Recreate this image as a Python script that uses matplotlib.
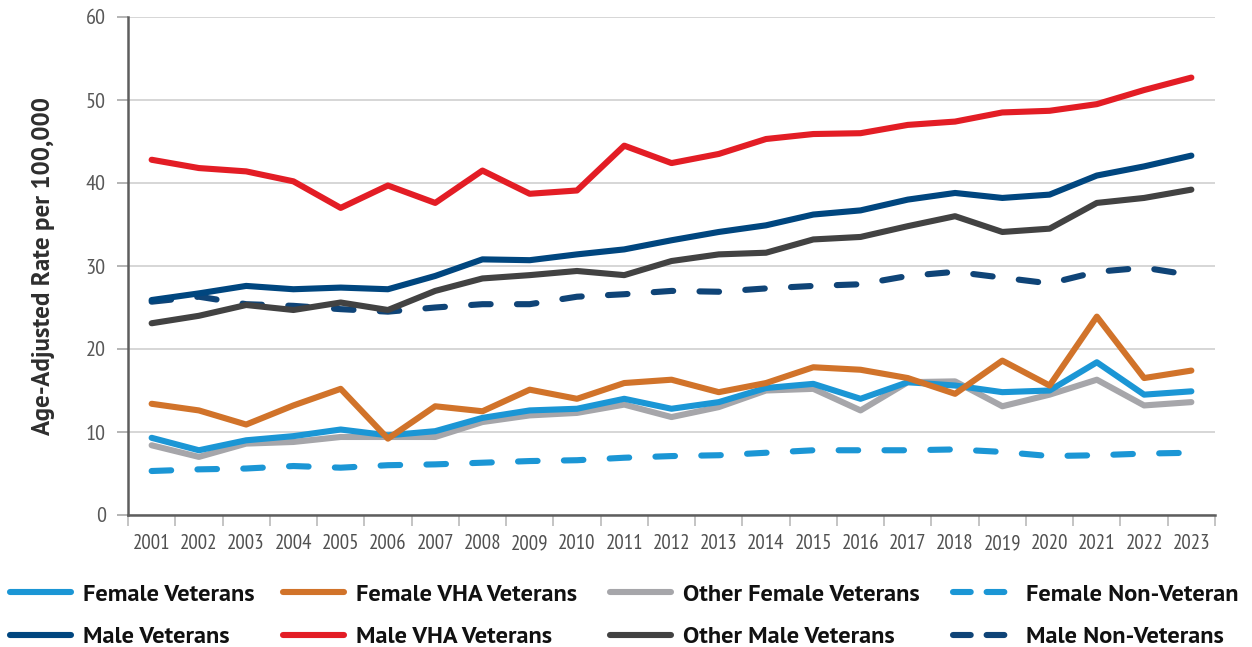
"""
Age-adjusted suicide rate trends, veterans vs non-veterans, 2001-2023.
"""
import matplotlib
matplotlib.use("Agg")
import matplotlib.pyplot as plt
from matplotlib.lines import Line2D
import numpy as np

plt.rcParams.update({
    "font.family": ["PT Sans Narrow", "DejaVu Sans"],
})
BOLD_FAMILY = ["PT Sans", "DejaVu Sans"]

years = list(range(2001, 2024))

female_vets = [9.3, 7.8, 9.0, 9.5, 10.3, 9.6, 10.1, 11.7, 12.6, 12.8, 14.0, 12.8,
               13.6, 15.3, 15.8, 14.0, 16.0, 15.6, 14.8, 15.0, 18.4, 14.5, 14.9]
female_vha = [13.4, 12.6, 10.9, 13.2, 15.2, 9.2, 13.1, 12.5, 15.1, 14.0, 15.9, 16.3,
              14.8, 15.9, 17.8, 17.5, 16.5, 14.6, 18.6, 15.6, 23.9, 16.5, 17.4]
other_female = [8.4, 7.0, 8.6, 8.8, 9.4, 9.4, 9.4, 11.2, 12.0, 12.3, 13.3, 11.8,
                13.0, 15.0, 15.2, 12.6, 16.0, 16.1, 13.1, 14.5, 16.3, 13.2, 13.6]
female_nonvet = [5.3, 5.5, 5.6, 5.9, 5.7, 6.0, 6.1, 6.3, 6.5, 6.6, 6.9, 7.1,
                 7.2, 7.5, 7.8, 7.8, 7.8, 7.9, 7.6, 7.1, 7.2, 7.4, 7.5]
male_vets = [25.9, 26.7, 27.6, 27.2, 27.4, 27.2, 28.8, 30.8, 30.7, 31.4, 32.0, 33.1,
             34.1, 34.9, 36.2, 36.7, 38.0, 38.8, 38.2, 38.6, 40.9, 42.0, 43.3]
male_vha = [42.8, 41.8, 41.4, 40.2, 37.0, 39.7, 37.6, 41.5, 38.7, 39.1, 44.5, 42.4,
            43.5, 45.3, 45.9, 46.0, 47.0, 47.4, 48.5, 48.7, 49.5, 51.2, 52.7]
other_male = [23.1, 24.0, 25.3, 24.7, 25.6, 24.7, 27.0, 28.5, 28.9, 29.4, 28.9, 30.6,
              31.4, 31.6, 33.2, 33.5, 34.8, 36.0, 34.1, 34.5, 37.6, 38.2, 39.2]
male_nonvet = [25.7, 26.3, 25.4, 25.2, 24.8, 24.5, 25.0, 25.4, 25.4, 26.3, 26.6, 27.0,
               26.9, 27.3, 27.6, 27.8, 28.8, 29.3, 28.6, 27.9, 29.3, 29.8, 28.9]

# legend columns: (top entry, bottom entry); entry = (label, values, colour, dashed)
legend_cols = [
    (("Female Veterans", female_vets, "#1b96d5", False),
     ("Male Veterans", male_vets, "#00467f", False)),
    (("Female VHA Veterans", female_vha, "#d1732a", False),
     ("Male VHA Veterans", male_vha, "#e31d25", False)),
    (("Other Female Veterans", other_female, "#a6a6aa", False),
     ("Other Male Veterans", other_male, "#424242", False)),
    (("Female Non-Veteran", female_nonvet, "#1b96d5", True),
     ("Male Non-Veterans", male_nonvet, "#0f4477", True)),
]
legend_x = [10, 283, 610, 953]  # pixel x of each legend column

# draw order so that the bold lines stack like the original
draw_order = [
    legend_cols[3][0], legend_cols[3][1], legend_cols[2][1], legend_cols[0][1],
    legend_cols[1][1], legend_cols[2][0], legend_cols[0][0], legend_cols[1][0],
]

W, H = 1252, 647
fig = plt.figure(figsize=(W / 100, H / 100), dpi=100)
ax = fig.add_axes([128 / W, 1 - 515 / H, (1215 - 128) / W, (515 - 17) / H])

LW = 4.4
for label, vals, color, dashed in draw_order:
    if dashed:
        ax.plot(years, vals, color=color, lw=LW, dashes=(3.2, 4.3),
                dash_capstyle="round", dash_joinstyle="round")
    else:
        ax.plot(years, vals, color=color, lw=LW,
                solid_capstyle="round", solid_joinstyle="round")

ax.set_xlim(2000.5, 2023.5)
ax.set_ylim(0, 60)
ax.set_yticks(np.arange(0, 61, 10))
ax.set_xticks(years)
ax.set_xticks(np.arange(2000.5, 2023.6, 1), minor=True)
ax.tick_params(axis="x", which="major", length=0, pad=14, labelsize=15,
               labelcolor="#505050")
ax.tick_params(axis="x", which="minor", length=8, width=1.2, color="#bababa",
               direction="out")
ax.tick_params(axis="y", length=8, width=1.2, color="#a8a8a8", pad=8,
               labelsize=16, labelcolor="#585858")

ax.grid(axis="y", color="#d6d6d6", lw=1.4)
ax.set_axisbelow(True)
for side in ("top", "right"):
    ax.spines[side].set_visible(False)
for side in ("left", "bottom"):
    ax.spines[side].set_color("#5e5e5e")
    ax.spines[side].set_linewidth(1.8)

ax.set_ylabel("Age-Adjusted Rate per 100,000", fontsize=18, fontweight="bold",
              family=BOLD_FAMILY, color="#2e2e2e", labelpad=22)

for (top, bottom), px in zip(legend_cols, legend_x):
    handles = []
    for label, _vals, color, dashed in (top, bottom):
        if dashed:
            h = Line2D([], [], color=color, lw=LW, dashes=(2.9, 2.6),
                       dash_capstyle="round")
        else:
            h = Line2D([], [], color=color, lw=LW, solid_capstyle="round")
        handles.append(h)
    leg = fig.legend(handles=handles, labels=[top[0], bottom[0]],
                     loc="center left", bbox_to_anchor=(px / W, 1 - 616 / H),
                     frameon=False, borderpad=0, borderaxespad=0,
                     handlelength=2.5, handletextpad=0.48, labelspacing=0.82,
                     prop={"size": 17.6, "weight": "bold", "family": BOLD_FAMILY})
    for t in leg.get_texts():
        t.set_color("#111111")

fig.savefig("out.png", dpi=100)
